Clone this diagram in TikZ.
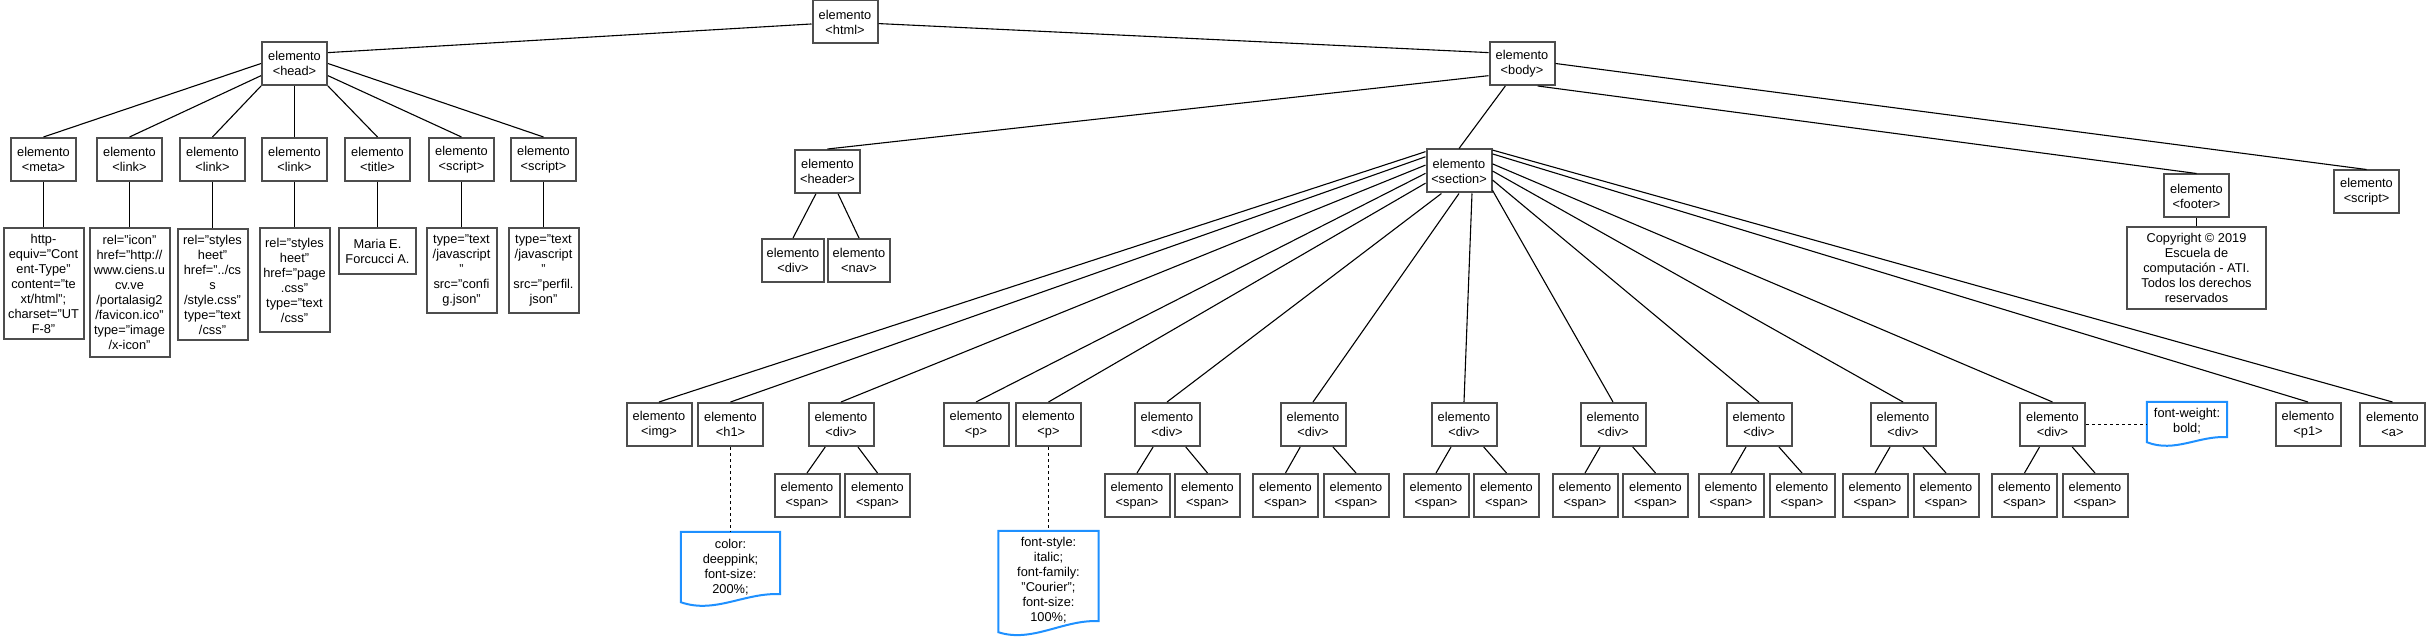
\documentclass[tikz,border=0pt]{standalone}
\usepackage{fontspec}
\setmainfont{Liberation Sans}
\newcommand\elfont{\fontsize{12.8}{15}\selectfont}
\definecolor{boxgray}{RGB}{77,77,77}
\definecolor{noteblue}{RGB}{30,144,255}
\tikzset{
  elem/.style={draw=boxgray, line width=2pt, fill=white, minimum width=65pt, minimum height=43pt, inner sep=0pt, align=center, font=\elfont},
  narrow/.style={minimum width=62pt},
  txtbox/.style={draw=boxgray, line width=2pt, fill=white, inner sep=0pt, align=center, font=\elfont},
  notebox/.style={inner sep=0pt, align=center, font=\elfont},
  conn/.style={draw=black, line width=1.1pt},
  dotconn/.style={draw=black, line width=1.3pt, dash pattern=on 3pt off 3pt},
  noteline/.style={draw=noteblue, line width=2pt, fill=white},
}
\begin{document}
\begin{tikzpicture}[x=1pt,y=-1pt]
\useasboundingbox (0,0) rectangle (2428,639);
% top levels
\node[elem] (html) at (845,22) {elemento\\<html>};
\node[elem] (head) at (294.5,63.5) {elemento\\<head>};
\node[elem] (body) at (1522,63.5) {elemento\\<body>};
% head children
\node[elem] (meta)  at (43.5,159.5)  {elemento\\<meta>};
\node[elem] (linkA) at (129.5,159.5) {elemento\\<link>};
\node[elem] (linkB) at (212.5,159.5) {elemento\\<link>};
\node[elem] (linkC) at (294.5,159.5) {elemento\\<link>};
\node[elem] (title) at (377.5,159.5) {elemento\\<title>};
\node[elem] (scrA)  at (461.5,159.5) {elemento\\<script>};
\node[elem] (scrB)  at (543.5,159.5) {elemento\\<script>};
% head grandchildren
\node[txtbox, minimum width=80pt, minimum height=111pt] (tmeta) at (43.5,283.5)
  {http-\\equiv="Cont\\ent-Type"\\content="te\\xt/html";\\charset="UT\\F-8"};
\node[txtbox, minimum width=80pt, minimum height=129pt] (tlinkA) at (129.5,292.5)
  {rel="icon"\\href="http://\\www.ciens.u\\cv.ve\\/portalasig2\\/favicon.ico"\\type="image\\/x-icon"};
\node[txtbox, minimum width=70pt, minimum height=111pt] (tlinkB) at (212.5,284.5)
  {rel="styles\\heet"\\href="../cs\\s\\/style.css"\\type="text\\/css"};
\node[txtbox, minimum width=70pt, minimum height=104pt] (tlinkC) at (294.5,280)
  {rel="styles\\heet"\\href="page\\.css"\\type="text\\/css"};
\node[txtbox, minimum width=77pt, minimum height=46pt] (ttitle) at (377.5,251)
  {Maria E.\\Forcucci A.};
\node[txtbox, minimum width=70pt, minimum height=85pt] (tscrA) at (461.5,270.5)
  {type="text\\/javascript\\"\\src="confi\\g.json"};
\node[txtbox, minimum width=70pt, minimum height=85pt] (tscrB) at (543.5,270.5)
  {type="text\\/javascript\\"\\src="perfil.\\json"};
% body children
\node[elem] (header)  at (827.5,171.5) {elemento\\<header>};
\node[elem] (section) at (1459,171)    {elemento\\<section>};
\node[elem] (footer)  at (2196.5,196)  {elemento\\<footer>};
\node[elem] (bscript) at (2366.5,192)  {elemento\\<script>};
\node[txtbox, minimum width=139pt, minimum height=82pt] (tcopy) at (2196.5,268)
  {Copyright © 2019\\Escuela de\\computación - ATI.\\Todos los derechos\\reservados};
% header children
\node[elem, narrow] (hdiv) at (793,260.5) {elemento\\<div>};
\node[elem, narrow] (hnav) at (859,260.5) {elemento\\<nav>};
% section children
\node[elem] (img)  at (659,424.5)    {elemento\\<img>};
\node[elem] (hone) at (730.5,424.5)  {elemento\\<h1>};
\node[elem] (dA)   at (841,424.5)    {elemento\\<div>};
\node[elem] (pA)   at (976,424.5)    {elemento\\<p>};
\node[elem] (pB)   at (1048.5,424.5) {elemento\\<p>};
\node[elem] (dB)   at (1167,424.5)   {elemento\\<div>};
\node[elem] (dC)   at (1313,424.5)   {elemento\\<div>};
\node[elem] (dD)   at (1464,424.5)   {elemento\\<div>};
\node[elem] (dE)   at (1613,424.5)   {elemento\\<div>};
\node[elem] (dF)   at (1759,424.5)   {elemento\\<div>};
\node[elem] (dG)   at (1903,424.5)   {elemento\\<div>};
\node[elem] (dH)   at (2052.5,424.5) {elemento\\<div>};
\node[elem] (pone) at (2308,424.5)   {elemento\\<p1>};
\node[elem] (aa)   at (2392.5,424.5) {elemento\\<a>};
% spans
\node[elem] (sAa) at (807,495.5)    {elemento\\<span>};
\node[elem] (sAb) at (877.5,495.5)  {elemento\\<span>};
\node[elem] (sBa) at (1137,495.5)   {elemento\\<span>};
\node[elem] (sBb) at (1207.5,495.5) {elemento\\<span>};
\node[elem] (sCa) at (1285.5,495.5) {elemento\\<span>};
\node[elem] (sCb) at (1356,495.5)   {elemento\\<span>};
\node[elem] (sDa) at (1436,495.5)   {elemento\\<span>};
\node[elem] (sDb) at (1506.5,495.5) {elemento\\<span>};
\node[elem] (sEa) at (1585,495.5)   {elemento\\<span>};
\node[elem] (sEb) at (1655.5,495.5) {elemento\\<span>};
\node[elem] (sFa) at (1731,495.5)   {elemento\\<span>};
\node[elem] (sFb) at (1802,495.5)   {elemento\\<span>};
\node[elem] (sGa) at (1875,495.5)   {elemento\\<span>};
\node[elem] (sGb) at (1946,495.5)   {elemento\\<span>};
\node[elem] (sHa) at (2024.5,495.5) {elemento\\<span>};
\node[elem] (sHb) at (2095,495.5)   {elemento\\<span>};
% notes
\node[notebox, minimum width=99pt, minimum height=75pt] (nA) at (730.5,569.5) {};
\node[notebox, minimum width=100pt, minimum height=106pt] (nB) at (1048.5,584) {};
\node[notebox, minimum width=80pt, minimum height=45pt] (nC) at (2187,424.5) {};
\draw[noteline] (nA.north west) -- (nA.north east) -- ([yshift=13pt]nA.south east)
  .. controls +(-35,-2) and +(34,12) .. ([yshift=5pt]nA.south west) -- cycle;
\draw[noteline] (nB.north west) -- (nB.north east) -- ([yshift=16pt]nB.south east)
  .. controls +(-35,-2) and +(34,11) .. ([yshift=5pt]nB.south west) -- cycle;
\draw[noteline] (nC.north west) -- (nC.north east) -- ([yshift=10pt]nC.south east)
  .. controls +(-28,-2) and +(28,11) .. ([yshift=5pt]nC.south west) -- cycle;
\node[notebox] (nAt) at (730.5,567) {color:\\deeppink;\\font-size:\\200\%;};
\node[notebox] (nBt) at (1048.5,580.5) {font-style:\\italic;\\font-family:\\"Courier";\\font-size:\\100\%;};
\node[notebox] (nCt) at (2187,421.5) {font-weight:\\bold;};
% connectors
\draw[conn] (html) -- (head.18);
\draw[conn] (html) -- (body.162);
\draw[conn] (head.180) -- (meta.north);
\draw[conn] (head.200) -- (linkA.north);
\draw[conn] (head.south west) -- (linkB.north);
\draw[conn] (head.south) -- (linkC.north);
\draw[conn] (head.south east) -- (title.north);
\draw[conn] (head.340) -- (scrA.north);
\draw[conn] (head.east) -- (scrB.north);
\foreach \a/\b in {meta/tmeta, linkA/tlinkA, linkB/tlinkB, linkC/tlinkC, title/ttitle, scrA/tscrA, scrB/tscrB, footer/tcopy}
  \draw[conn] (\a.south) -- (\b.north);
\draw[conn] (body.200) -- (header.north);
\draw[conn] (body) -- (section.north);
\draw[conn] (body.305) -- (footer.north);
\draw[conn] (body.east) -- (bscript.north);
\draw[conn] (header) -- (hdiv.north);
\draw[conn] (header) -- (hnav.north);
\foreach \ang/\c in {150/img, 157/hone, 170/dA, 184/pA, 200/pB, 232/dB, 270/dC, 300/dD, 330/dE, 345/dF, 0/dG, 12/dH, 27/pone, 32/aa}
  \draw[conn] (section.\ang) -- (\c.north);
\foreach \d in {A,B,C,D,E,F,G,H}{
  \draw[conn] (d\d) -- (s\d a.north);
  \draw[conn] (d\d) -- (s\d b.north);
}
\draw[dotconn] (hone) -- (nA);
\draw[dotconn] (pB) -- (nB);
\draw[dotconn] (dH) -- (nC);
\end{tikzpicture}
\end{document}
